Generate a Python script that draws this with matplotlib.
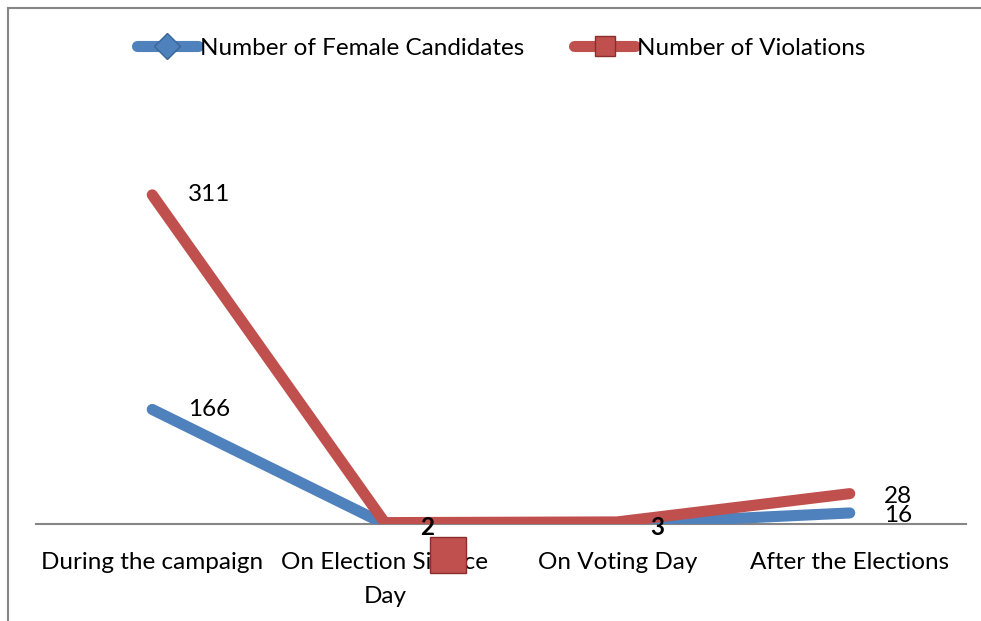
import matplotlib
matplotlib.use("Agg")
import matplotlib.pyplot as plt
from matplotlib.lines import Line2D
import numpy as np

categories = ["During the campaign", "On Election Silence\nDay", "On Voting Day", "After the Elections"]
female_candidates = [166, 0, 0, 16]
violations = [311, 2, 3, 28]
series_names = ["Number of Female Candidates", "Number of Violations"]

BLUE = "#4F81BD"
RED = "#C0504D"
FS = 17.5
LW = 8

plt.rcParams['font.family'] = ['Lato', 'DejaVu Sans']

W, H = 981, 621
fig = plt.figure(figsize=(W / 100, H / 100), dpi=100)
ax = fig.add_axes([36 / W, (H - 524) / H, 930 / W, 414 / H])

x = np.arange(len(categories))
blue = np.array(female_candidates, dtype=float)
red_stacked = blue + np.array(violations, dtype=float)

ax.plot(x, blue, color=BLUE, lw=LW, solid_capstyle='round', solid_joinstyle='round', zorder=3)
ax.plot(x, red_stacked, color=RED, lw=LW, solid_capstyle='round', solid_joinstyle='round', zorder=4)

ax.set_xlim(-0.5, len(categories) - 0.5)
ax.set_ylim(0, 600)
for s in ['top', 'right', 'left']:
    ax.spines[s].set_visible(False)
ax.spines['bottom'].set_color('#868686')
ax.spines['bottom'].set_linewidth(1.5)
ax.spines['bottom'].set_zorder(2)
ax.set_yticks([])
ax.set_xticks(x)
ax.set_xticklabels(categories, fontsize=FS, color='black', linespacing=1.75)
ax.tick_params(axis='x', length=0, pad=20)

def lab(xi, yv, text, dx, dy, bold=False):
    ax.annotate(text, (xi, yv), xytext=(dx, dy), textcoords='offset pixels',
                ha='left', va='center', fontsize=FS,
                fontweight='bold' if bold else 'normal', zorder=6)

lab(0, red_stacked[0], str(violations[0]), 36, 0)
lab(0, blue[0], str(female_candidates[0]), 36, 0)
lab(1, red_stacked[1], str(violations[1]), 35, -5, bold=True)
lab(2, red_stacked[2], str(violations[2]), 33, -6, bold=True)
lab(3, red_stacked[3], str(violations[3]), 34, -3)
lab(3, blue[3], str(female_candidates[3]), 34, -3)

# stray marker beneath the silence-day label
ax.plot([1.27], [-45], marker='s', markersize=26, color=RED,
        markeredgecolor='#8B2E2B', markeredgewidth=1, clip_on=False, zorder=7)

handles = [
    Line2D([0], [0], color=BLUE, lw=LW, solid_capstyle='round', marker='D', markersize=13,
           markerfacecolor=BLUE, markeredgecolor='#3A6595'),
    Line2D([0], [0], color=RED, lw=LW, solid_capstyle='round', marker='s', markersize=14,
           markerfacecolor=RED, markeredgecolor='#8B2E2B'),
]
fig.legend(handles, series_names, loc='center left', bbox_to_anchor=(137 / W, 1 - 48 / H),
           ncol=2, frameon=False, fontsize=FS, handlelength=2.5, handletextpad=0.1,
           columnspacing=2.05, borderpad=0, borderaxespad=0)

# chart border (top and left visible)
fig.add_artist(Line2D([8 / W, 8 / W], [0, 1 - 8 / H], transform=fig.transFigure, color='#868686', lw=1.5))
fig.add_artist(Line2D([8 / W, 1], [1 - 8 / H, 1 - 8 / H], transform=fig.transFigure, color='#868686', lw=1.5))

fig.savefig("out.png", dpi=100)
